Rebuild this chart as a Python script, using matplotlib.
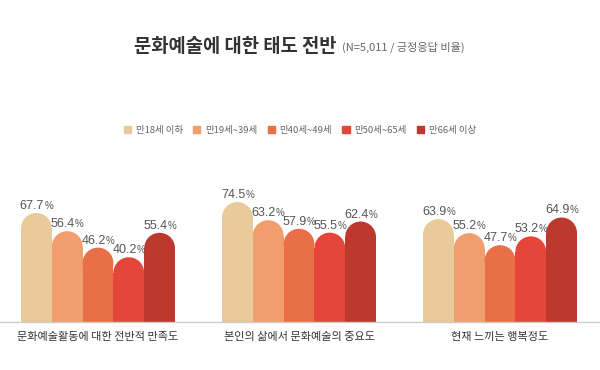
import matplotlib
matplotlib.use('Agg')
import matplotlib.pyplot as plt
from matplotlib.patches import Rectangle, Ellipse, Patch

plt.rcParams['font.family'] = ['Noto Sans CJK KR', 'DejaVu Sans']

# data
categories = ['문화예술활동에 대한 전반적 만족도', '본인의 삶에서 문화예술의 중요도', '현재 느끼는 행복정도']
groups = ['만18세 이하', '만19세~39세', '만40세~49세', '만50세~65세', '만66세 이상']
values = [
    [67.7, 56.4, 46.2, 40.2, 55.4],
    [74.5, 63.2, 57.9, 55.5, 62.4],
    [63.9, 55.2, 47.7, 53.2, 64.9],
]
colors = ['#E9CB9B', '#F09E6D', '#E86F48', '#E5463A', '#BE392D']

W, H = 600, 370
fig = plt.figure(figsize=(W / 100, H / 100), dpi=100)
renderer = fig.canvas.get_renderer()

# axes: baseline at y=322 px, top at y=100 px, full width
base_px, top_px = 322, 100
px_per_unit = 1.61
ax = fig.add_axes([0, 1 - base_px / H, 1, (base_px - top_px) / H])
ax.set_ylim(0, (base_px - top_px) / px_per_unit)

# x: group centres at 98, 299, 500 px
step_px = 201
ax.set_xlim(-98 / step_px, 2 + 100 / step_px)
bw = 30.8 / step_px
r_y = (30.8 / 2) / px_per_unit  # cap radius in data units

num_fs, pct_fs = 9, 7

for gi, row in enumerate(values):
    for j, v in enumerate(row):
        x = gi + (j - 2) * bw
        ax.add_patch(Rectangle((x - bw / 2, 0), bw, v - r_y, color=colors[j], lw=0))
        ax.add_patch(Ellipse((x, v - r_y), bw, 2 * r_y, color=colors[j], lw=0))
        # number + smaller % sign, centred together over the bar
        t1 = ax.text(x, v + 2.5, f'{v:.1f}', ha='right', va='baseline',
                     fontsize=num_fs, color='#555555', family='Liberation Sans')
        t2 = ax.text(x, v + 2.5, '%', ha='left', va='baseline',
                     fontsize=pct_fs, color='#555555', family='Liberation Sans')
        w1 = t1.get_window_extent(renderer).width
        w2 = t2.get_window_extent(renderer).width
        shift = (w1 - w2) / 2 / step_px
        t1.set_x(x + shift)
        t2.set_x(x + shift)
    ax.text(gi, -9.5, categories[gi], ha='center', va='center',
            fontsize=8, color='#333333')

ax.axhline(0, color='#cccccc', lw=1, clip_on=False)
ax.axis('off')

fig.text(336 / W, 1 - 46 / H, '문화예술에 대한 태도 전반', ha='right', va='center',
         fontsize=13.5, fontweight='bold', color='#333333')
fig.text(342 / W, 1 - 47 / H, '(N=5,011 / 긍정응답 비율)', ha='left', va='center',
         fontsize=8, color='#666666')

handles = [Patch(color=c) for c in colors]
fig.legend(handles, groups, loc='center', bbox_to_anchor=(300 / W, 1 - 130 / H),
           ncol=5, frameon=False, fontsize=6.8, handlelength=0.75, handleheight=0.75,
           handletextpad=0.5, columnspacing=1.1, labelcolor='#666666')

fig.savefig('out.png', dpi=100)
